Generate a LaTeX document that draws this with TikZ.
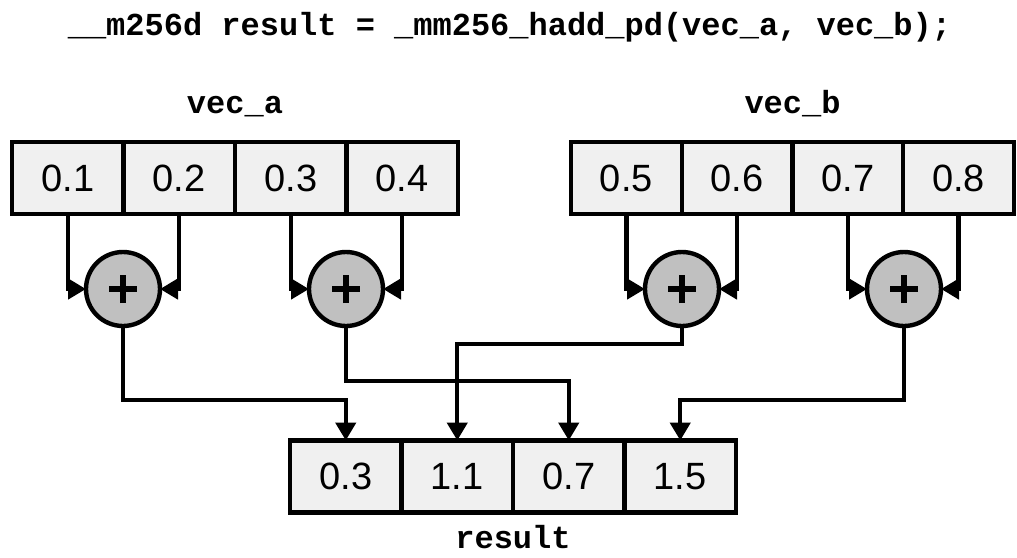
\documentclass[tikz,border=0pt]{standalone}
\usepackage{fontspec}
\setmainfont{Liberation Sans}
\newfontfamily\codefont{Liberation Mono}
\usetikzlibrary{arrows.meta}
\definecolor{cellfill}{HTML}{F0F0F0}
\definecolor{addfill}{HTML}{C0C0C0}
\begin{document}
\begin{tikzpicture}[x=0.5pt, y=-0.5pt,
  wire/.style={line width=2.2pt},
  arr/.style={wire, -{Triangle[length=9pt, width=10pt]}},
  code/.style={font=\codefont\bfseries\fontsize{16pt}{18pt}\selectfont, anchor=base, inner sep=0pt},
  cell/.style={draw, line width=2.2pt, fill=cellfill, rectangle, inner sep=0pt, outer sep=0pt,
    minimum height=36pt, font=\fontsize{19pt}{21pt}\selectfont},
  acell/.style={cell, minimum width=55.75pt},
  bcell/.style={cell, minimum width=55.375pt},
  rcell/.style={cell, minimum width=55.75pt},
  adder/.style={draw, line width=2.2pt, fill=addfill, circle, inner sep=0pt, outer sep=0pt,
    minimum size=37pt,
    path picture={
      \draw[line width=3pt] ([xshift=-7pt]path picture bounding box.center) -- ([xshift=7pt]path picture bounding box.center);
      \draw[line width=3pt] ([yshift=-7pt]path picture bounding box.center) -- ([yshift=7pt]path picture bounding box.center);
    }},
]
\useasboundingbox (0,0) rectangle (1017,557);

% intrinsic call and operand names
\node[code] (title) at (509.5,35) {\_\_m256d result = \_mm256\_hadd\_pd(vec\_a, vec\_b);};
\node[code] (namea) at (235,113) {vec\_a};
\node[code] (nameb) at (792.5,113) {vec\_b};
\node[code] (namer) at (513,548) {result};

% source vectors
\node[acell] (a1) at (67.75,178) {0.1};
\node[acell] (a2) at (179.25,178) {0.2};
\node[acell] (a3) at (290.75,178) {0.3};
\node[acell] (a4) at (402.25,178) {0.4};

\node[bcell] (b1) at (626.375,178) {0.5};
\node[bcell] (b2) at (737.125,178) {0.6};
\node[bcell] (b3) at (847.875,178) {0.7};
\node[bcell] (b4) at (958.625,178) {0.8};

% adders
\node[adder] (p1) at (123,289) {};
\node[adder] (p2) at (346,289) {};
\node[adder] (p3) at (682,289) {};
\node[adder] (p4) at (904,289) {};

% result vector
\node[rcell] (r1) at (345.75,476.5) {0.3};
\node[rcell] (r2) at (457.25,476.5) {1.1};
\node[rcell] (r3) at (568.75,476.5) {0.7};
\node[rcell] (r4) at (680.25,476.5) {1.5};

% pairwise inputs
\draw[arr] (a1.south) |- (p1.west);
\draw[arr] (a2.south) |- (p1.east);
\draw[arr] (a3.south) |- (p2.west);
\draw[arr] (a4.south) |- (p2.east);
\draw[arr] (b1.south) |- (p3.west);
\draw[arr] (b2.south) |- (p3.east);
\draw[arr] (b3.south) |- (p4.west);
\draw[arr] (b4.south) |- (p4.east);

% sums to the interleaved result
\draw[arr] (p1.south) -- ++(0,74) -| (r1.north);
\draw[arr] (p2.south) -- ++(0,55) -| (r3.north);
\draw[arr] (p3.south) -- ++(0,18) -| (r2.north);
\draw[arr] (p4.south) -- ++(0,74) -| (r4.north);
\end{tikzpicture}
\end{document}
